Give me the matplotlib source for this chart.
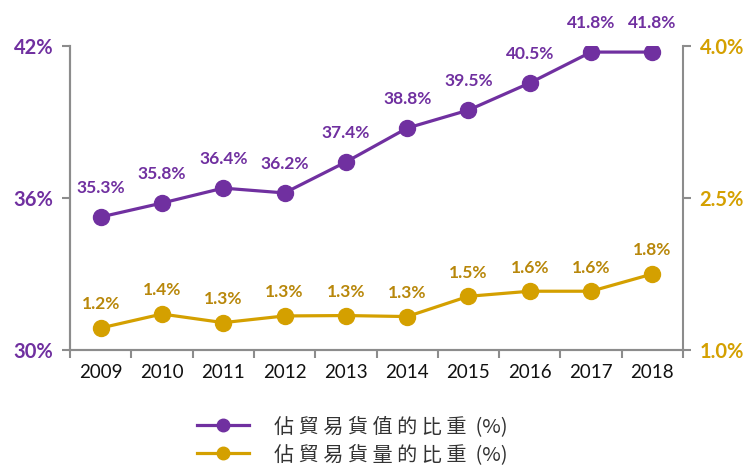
import matplotlib
matplotlib.use("Agg")
import matplotlib.pyplot as plt
from matplotlib.lines import Line2D

years = ["2009", "2010", "2011", "2012", "2013", "2014", "2015", "2016", "2017", "2018"]
value_share = [35.25, 35.8, 36.39, 36.2, 37.42, 38.76, 39.47, 40.54, 41.76, 41.76]
value_labels = ["35.3%", "35.8%", "36.4%", "36.2%", "37.4%", "38.8%", "39.5%", "40.5%", "41.8%", "41.8%"]
volume_share = [1.217, 1.355, 1.27, 1.336, 1.34, 1.33, 1.53, 1.58, 1.58, 1.75]
volume_labels = ["1.2%", "1.4%", "1.3%", "1.3%", "1.3%", "1.3%", "1.5%", "1.6%", "1.6%", "1.8%"]
left_ticks = [30, 36, 42]
left_ticklabels = ["30%", "36%", "42%"]
right_ticks = [1.0, 2.5, 4.0]
right_ticklabels = ["1.0%", "2.5%", "4.0%"]
legend_labels = ["佔 貿 易 貨 值 的 比 重  (%)", "佔 貿 易 貨 量 的 比 重  (%)"]

PURPLE = "#7030A0"
GOLD = "#D4A000"
GOLD_TXT = "#B8870A"
SPINE = "#8C8C8C"
LAT = "Lato"

fig = plt.figure(figsize=(7.47, 4.70), dpi=100)
ax = fig.add_axes([70/747, 1-350/470, (683-70)/747, (350-46)/470])
ax2 = ax.twinx()

x = list(range(len(years)))
ax.plot(x, value_share, color=PURPLE, lw=2.3, marker="o", ms=11.5, zorder=3)
ax2.plot(x, volume_share, color=GOLD, lw=2.3, marker="o", ms=11.5, zorder=3)

for xi, v, t in zip(x, value_share, value_labels):
    ax.annotate(t, (xi, v), xytext=(0, 21), textcoords="offset points", ha="center", va="center",
                color=PURPLE, fontsize=12.5, fontweight="bold", family=LAT)
for xi, v, t in zip(x, volume_share, volume_labels):
    ax2.annotate(t, (xi, v), xytext=(0, 17), textcoords="offset points", ha="center", va="center",
                 color=GOLD_TXT, fontsize=12.5, fontweight="bold", family=LAT)

ax.set_xlim(-0.5, len(years) - 0.5)
ax.set_ylim(30, 42)
ax2.set_ylim(1.0, 4.0)

ax.set_yticks(left_ticks)
ax.set_yticklabels(left_ticklabels, color=PURPLE, fontsize=14.5, fontweight="bold", family=LAT)
ax2.set_yticks(right_ticks)
ax2.set_yticklabels(right_ticklabels, color=GOLD, fontsize=14.5, fontweight="bold", family=LAT)

# category labels at centres, tick marks at boundaries
ax.set_xticks([i - 0.5 for i in range(len(years) + 1)])
ax.set_xticklabels([])
ax.set_xticks(x, minor=True)
ax.set_xticklabels(years, minor=True, fontsize=13.5, family=LAT, color="#111111")
ax.tick_params(axis="x", which="minor", length=0, pad=10)
ax.tick_params(axis="x", which="major", length=6, width=1.5, color=SPINE, direction="out")
ax.tick_params(axis="y", length=6, width=1.5, color=SPINE, direction="out", pad=6)
ax2.tick_params(axis="y", length=6, width=1.5, color=SPINE, direction="out", pad=6)

for a in (ax, ax2):
    a.spines["top"].set_visible(False)
    for s in ("left", "right", "bottom"):
        a.spines[s].set_color(SPINE)
        a.spines[s].set_linewidth(1.5)
    a.patch.set_visible(False)
ax.spines["right"].set_visible(False)

handles = [
    Line2D([], [], color=PURPLE, lw=2.3, marker="o", ms=9),
    Line2D([], [], color=GOLD, lw=2.3, marker="o", ms=9),
]
fig.legend(handles, legend_labels, loc="upper left", bbox_to_anchor=(197/747, 1-416/470),
           frameon=False, handlelength=2.6, handletextpad=1.2, labelspacing=0.35,
           prop={"family": ["Noto Sans CJK TC", "DejaVu Sans"], "size": 14.5},
           labelcolor="#333333", borderaxespad=0, borderpad=0)

fig.savefig("out.png", dpi=100)
